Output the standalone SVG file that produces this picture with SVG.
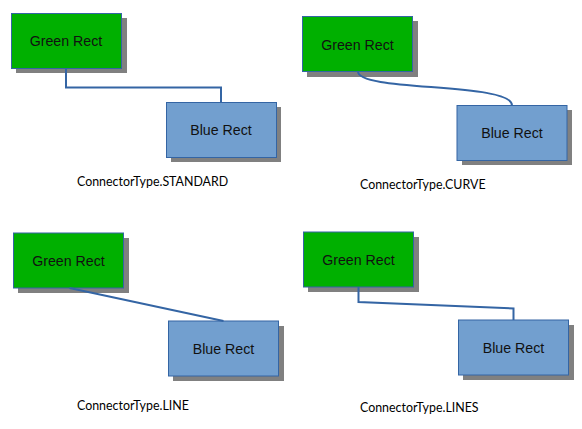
<svg xmlns="http://www.w3.org/2000/svg" width="582" height="429" viewBox="0 0 582 429">
<style>
.shadow{fill:#808080}
.green{fill:#00b000;stroke:#3465a4;stroke-width:1}
.blue{fill:#729fcf;stroke:#3465a4;stroke-width:1}
.nl{font-family:"Liberation Sans",Arial,sans-serif;font-size:14.2px;fill:#111;text-anchor:middle}
.cap{font-family:Lato,"Open Sans",sans-serif;font-size:12.4px;fill:#000}
.conn{fill:none;stroke:#3465a4;stroke-width:2}
</style>
<rect width="582" height="429" fill="#fff"/>
<g id="green1"><rect class="shadow" x="16" y="18" width="111" height="55"/><rect class="green" x="11.5" y="13.5" width="110" height="55"/><text class="nl" x="66" y="46">Green Rect</text></g>
<g id="blue1"><rect class="shadow" x="171" y="107" width="110" height="55"/><rect class="blue" x="166.5" y="102.5" width="110" height="55"/><text class="nl" x="221" y="134.5">Blue Rect</text></g>
<g id="green2"><rect class="shadow" x="307" y="21" width="111" height="56"/><rect class="green" x="302.5" y="16.5" width="110" height="55"/><text class="nl" x="357.5" y="49.5">Green Rect</text></g>
<g id="blue2"><rect class="shadow" x="462" y="110" width="110" height="55"/><rect class="blue" x="457" y="105.5" width="110" height="55"/><text class="nl" x="512" y="137.5">Blue Rect</text></g>
<g id="green3"><rect class="shadow" x="18" y="238" width="111" height="55"/><rect class="green" x="13.5" y="233" width="110" height="55"/><text class="nl" x="68.5" y="265.5">Green Rect</text></g>
<g id="blue3"><rect class="shadow" x="173" y="326" width="111" height="55"/><rect class="blue" x="168.5" y="321" width="110" height="55"/><text class="nl" x="223.5" y="353.5">Blue Rect</text></g>
<g id="green4"><rect class="shadow" x="308" y="237" width="111" height="55"/><rect class="green" x="303.5" y="232" width="110" height="55"/><text class="nl" x="358.5" y="264.5">Green Rect</text></g>
<g id="blue4"><rect class="shadow" x="463" y="325" width="111" height="55"/><rect class="blue" x="458.5" y="320" width="110" height="55"/><text class="nl" x="513.5" y="352.5">Blue Rect</text></g>
<g id="connectors">
<path class="conn" d="M66,68.5 V87.5 H221 V102.5"/>
<path class="conn" d="M358,71.5 C358,92 512,82 512,105.5"/>
<path class="conn" d="M69.5,288 L223.5,321"/>
<path class="conn" d="M358.5,287 V302 L513.5,308.5 V320"/>
</g>
<g id="captions">
<text class="cap" x="77" y="186">ConnectorType.STANDARD</text>
<text class="cap" x="360" y="189">ConnectorType.CURVE</text>
<text class="cap" x="77" y="410">ConnectorType.LINE</text>
<text class="cap" x="360" y="412">ConnectorType.LINES</text>
</g>
</svg>
